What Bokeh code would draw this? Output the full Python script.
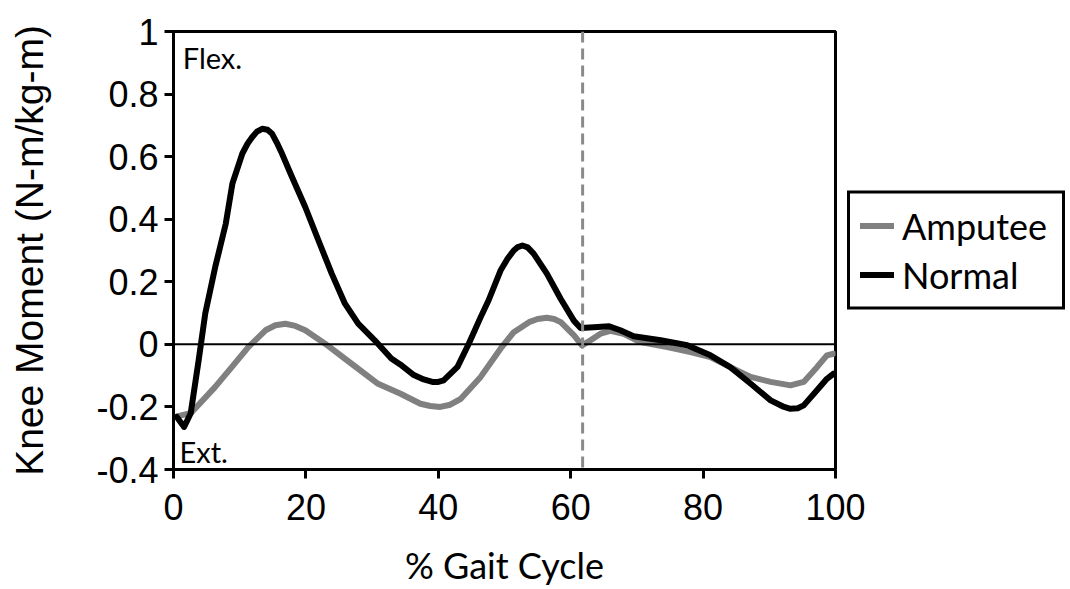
from bokeh.plotting import figure
from bokeh.models import (Range1d, FixedTicker, CustomJSTickFormatter, Span, Label,
                          Legend, LegendItem)
from bokeh.embed import file_html
from bokeh.resources import INLINE

# ---- data ----
normal_x = [0.5, 1.6, 2.6, 3.8, 4.8, 6.3, 7.9, 8.9, 10.4, 11.2, 11.9, 12.6, 13.4, 14.2,
            14.9, 15.6, 16.4, 17.9, 19.9, 21.9, 23.9, 25.9, 27.9, 30.4, 32.9, 34.3,
            36.3, 37.8, 39.1, 40.0, 40.8, 42.9, 44.6, 46.4, 47.6, 49.4, 50.5, 51.4,
            52.0, 52.7, 53.5, 54.4, 56.4, 58.5, 60.5, 61.5, 63.5, 65.8, 67.5, 69.5,
            73.6, 77.6, 81.1, 84.1, 87.2, 90.2, 92.0, 93.2, 94.3, 95.2, 97.2, 98.7,
            99.7]
normal_y = [-0.232, -0.264, -0.22, -0.051, 0.099, 0.247, 0.386, 0.514, 0.61, 0.642,
            0.663, 0.680, 0.689, 0.686, 0.673, 0.645, 0.609, 0.535, 0.439, 0.332,
            0.226, 0.13, 0.066, 0.013, -0.045, -0.065, -0.098, -0.112, -0.12, -0.12,
            -0.115, -0.072, 0.002, 0.087, 0.141, 0.236, 0.275, 0.30, 0.311, 0.316,
            0.310, 0.29, 0.226, 0.145, 0.075, 0.052, 0.055, 0.058, 0.045, 0.026,
            0.013, -0.003, -0.035, -0.073, -0.126, -0.179, -0.198, -0.206, -0.204,
            -0.195, -0.147, -0.11, -0.094]

amputee_x = [0.5, 2.6, 6.3, 8.8, 11.3, 13.9, 15.4, 16.9, 18.4, 19.9, 22.9, 26.9, 30.9,
             34.3, 37.3, 38.8, 40.3, 41.8, 43.4, 46.4, 49.4, 51.4, 53.7, 55.0, 56.4,
             57.5, 58.5, 60.5, 61.7, 63.0, 64.5, 66.0, 68.0, 70.5, 74.6, 78.1, 81.1,
             84.1, 87.2, 90.2, 93.2, 95.2, 97.2, 98.7, 99.7]
amputee_y = [-0.23, -0.22, -0.136, -0.073, -0.009, 0.045, 0.061, 0.066, 0.059, 0.045,
             0.002, -0.062, -0.126, -0.158, -0.19, -0.197, -0.2, -0.193, -0.174,
             -0.104, -0.014, 0.039, 0.071, 0.081, 0.085, 0.081, 0.071, 0.029, -0.003,
             0.013, 0.034, 0.043, 0.034, 0.007, -0.009, -0.025, -0.041, -0.073,
             -0.104, -0.12, -0.131, -0.12, -0.073, -0.035, -0.03]

x_ticks = [0, 20, 40, 60, 80, 100]
y_ticks = [-0.4, -0.2, 0, 0.2, 0.4, 0.6, 0.8, 1]
toe_off = 61.8
series_names = ["Amputee", "Normal"]

CAL = "Lato"
ARIAL = "Liberation Sans"

p = figure(frame_width=662, frame_height=438, output_backend="svg",
           toolbar_location=None,
           x_range=Range1d(0, 100), y_range=Range1d(-0.4, 1),
           min_border_left=173, min_border_top=31, min_border_right=227,
           min_border_bottom=112)
p.background_fill_color = "white"
p.border_fill_color = "white"
p.outline_line_color = "black"
p.outline_line_width = 3
p.outline_line_alpha = 1
p.xgrid.visible = False
p.ygrid.visible = False

for ax in (p.xaxis[0], p.yaxis[0]):
    ax.axis_line_width = 3
    ax.major_tick_line_width = 3
    ax.major_tick_in = 0
    ax.major_tick_out = 9
    ax.minor_tick_line_color = None
    ax.major_label_text_font = ARIAL
    ax.major_label_text_font_size = "36px"
    ax.major_label_text_color = "black"
    ax.axis_label_text_font_style = "normal"
    ax.axis_label_text_color = "black"

p.xaxis.ticker = FixedTicker(ticks=x_ticks)
p.yaxis.ticker = FixedTicker(ticks=y_ticks)
p.xaxis.formatter = CustomJSTickFormatter(code="return tick.toFixed(0);")
p.yaxis.formatter = CustomJSTickFormatter(
    code="var s = tick.toFixed(1); if (s === '-0.0') s = '0.0'; return s.replace(/\\.0$/, '');")
p.xaxis.major_label_standoff = 15
p.yaxis.major_label_standoff = 6

p.xaxis.axis_label = "% Gait Cycle"
p.xaxis.axis_label_text_font = CAL
p.xaxis.axis_label_text_font_size = "36px"
p.xaxis.axis_label_standoff = 20

p.yaxis.axis_label = "Knee Moment (N-m/kg-m)"
p.yaxis.axis_label_text_font = ARIAL
p.yaxis.axis_label_text_font_size = "39px"
p.yaxis.axis_label_standoff = 42

# zero line and toe-off marker
p.add_layout(Span(location=0, dimension="width", line_color="black", line_width=2))
p.add_layout(Span(location=toe_off, dimension="height", line_color="#8a8a8a",
                  line_width=3, line_dash="11 6"))

r_amp = p.line(amputee_x, amputee_y, line_color="#808080", line_width=6,
               line_join="round", line_cap="round")
r_norm = p.line(normal_x, normal_y, line_color="black", line_width=6,
                line_join="round", line_cap="round")

p.add_layout(Label(x=1.4, y=0.916, text="Flex.", text_font=CAL,
                   text_font_size="29px", text_color="black",
                   text_baseline="alphabetic"))
p.add_layout(Label(x=0.9, y=-0.343, text="Ext.", text_font=CAL,
                   text_font_size="29px", text_color="black",
                   text_baseline="alphabetic"))

legend = Legend(items=[LegendItem(label=series_names[0], renderers=[r_amp]),
                       LegendItem(label=series_names[1], renderers=[r_norm])],
                location="center_left", margin=12, padding=10, spacing=5,
                glyph_width=34, glyph_height=44, label_height=44, label_width=150,
                label_standoff=8, label_text_font=CAL,
                label_text_font_size="36px", label_text_color="black",
                border_line_color="black", border_line_width=3,
                border_line_alpha=1.0,
                background_fill_color="white", background_fill_alpha=1.0)
p.add_layout(legend, "right")

open("out.html", "w").write(file_html(p, INLINE))
